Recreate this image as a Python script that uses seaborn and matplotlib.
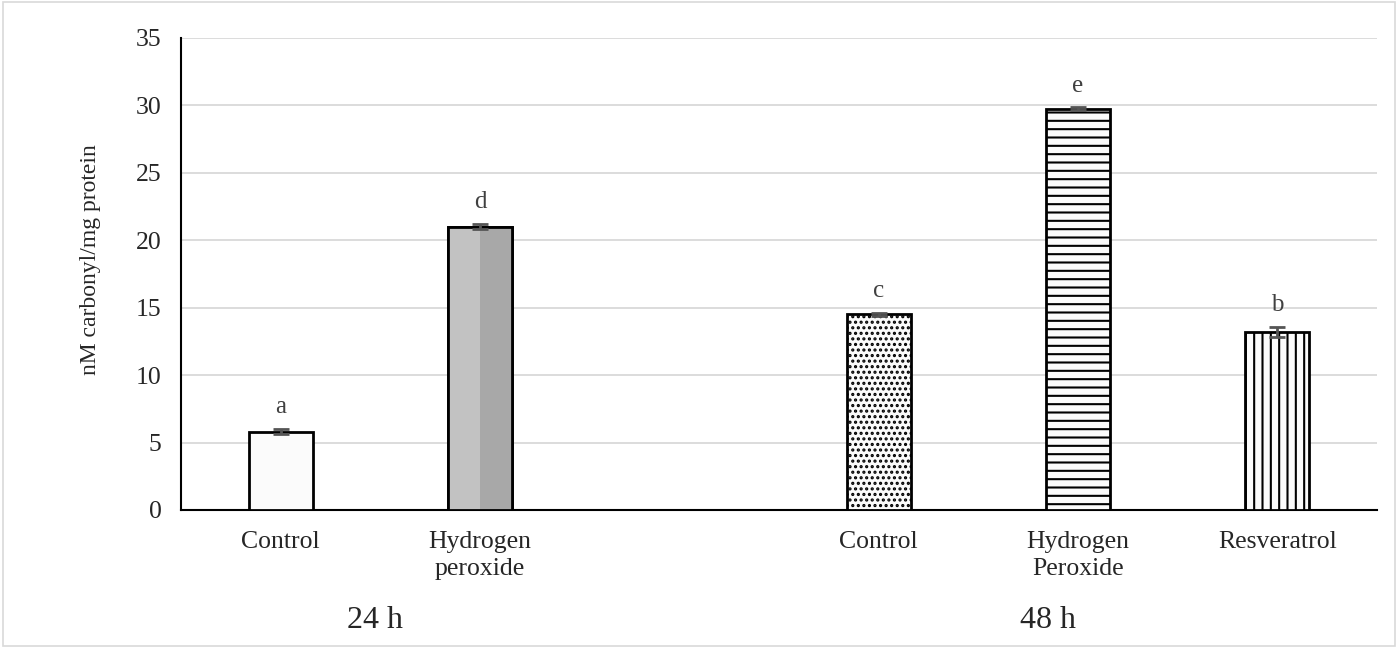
import matplotlib
matplotlib.use("Agg")
import matplotlib.pyplot as plt
import seaborn as sns
import pandas as pd
import numpy as np
from matplotlib.patches import Rectangle

# ---- data ----
categories = ["ctrl24", "h2o2_24", "gap", "ctrl48", "h2o2_48", "resv48"]
bar_categories = ["ctrl24", "h2o2_24", "ctrl48", "h2o2_48", "resv48"]
values = [5.8, 21.0, 14.5, 29.75, 13.2]
errors = [0.2, 0.2, 0.1, 0.1, 0.35]
letters = ["a", "d", "c", "e", "b"]
tick_labels = ["Control", "Hydrogen\nperoxide", "", "Control", "Hydrogen\nPeroxide", "Resveratrol"]
group_labels = ["24 h", "48 h"]

sns.set_theme(style="white")
plt.rcParams["font.family"] = ["Liberation Serif", "DejaVu Serif"]
plt.rcParams["hatch.linewidth"] = 1.5

fig = plt.figure(figsize=(13.98, 6.48), dpi=100)
ax = fig.add_axes([181 / 1398, 1 - 510 / 648, (1377 - 181) / 1398, (510 - 38) / 648])

df = pd.DataFrame({"cat": bar_categories, "val": values})
sns.barplot(data=df, x="cat", y="val", order=categories, errorbar=None,
            width=0.32, ax=ax, color="white", edgecolor="black", linewidth=2.0)

fills = ["#fbfbfb", "#b4b4b4", "#fbfbfb", "#fbfbfb", "#fbfbfb"]
hatches = [None, None, "...", "--", "||"]
patches = sorted(ax.patches, key=lambda p: p.get_x())
for p, fc, h in zip(patches, fills, hatches):
    p.set_facecolor(fc)
    if h:
        p.set_hatch(h)
    p.set_zorder(3)

# bevel-like shading on the grey bar (left lighter, right darker)
gp = patches[1]
x0, w, y0, hgt = gp.get_x(), gp.get_width(), gp.get_y(), gp.get_height()
shade = np.array([[0.76, 0.66]])
im = ax.imshow(shade, cmap="gray", vmin=0, vmax=1, aspect="auto",
               extent=(x0, x0 + w, y0, y0 + hgt), zorder=3.5, interpolation="nearest")
im.set_clip_path(gp)
outline = Rectangle((x0, y0), w, hgt, fill=False, edgecolor="black", linewidth=2.0, zorder=3.6)
ax.add_patch(outline)

xs = [categories.index(c) for c in bar_categories]
ax.errorbar(xs, values, yerr=errors, fmt="none", ecolor="#555555",
            elinewidth=2.0, capsize=6, capthick=2.0, zorder=5)
for x, v, e, t in zip(xs, values, errors, letters):
    ax.text(x, v + e + 0.8, t, ha="center", va="bottom", fontsize=18, color="#404040")

ax.set_xlim(-0.5, 5.5)
ax.set_ylim(0, 35)
ax.set_yticks(range(0, 36, 5))
ax.set_xticks(range(len(categories)))
ax.set_xticklabels(tick_labels, fontsize=18.5, linespacing=1.3)
ax.tick_params(axis="x", length=0, pad=15)
ax.tick_params(axis="y", length=0, pad=14, labelsize=18.5)
ax.set_xlabel("")
ax.set_ylabel("nM carbonyl/mg protein", fontsize=17)
ax.yaxis.set_label_coords(-80 / 1196, 0.53)
ax.yaxis.grid(True, color="#d9d9d9", linewidth=1.3, zorder=0)
ax.set_axisbelow(True)
for s in ["top", "right"]:
    ax.spines[s].set_visible(False)
for s in ["left", "bottom"]:
    ax.spines[s].set_color("black")
    ax.spines[s].set_linewidth(1.5)

fig.text(375 / 1398, 1 - 621 / 648, group_labels[0], ha="center", va="center", fontsize=23)
fig.text(1048 / 1398, 1 - 621 / 648, group_labels[1], ha="center", va="center", fontsize=23)

fig.patches.append(Rectangle((0.002, 0.003), 0.996, 0.994, transform=fig.transFigure,
                             fill=False, edgecolor="#d9d9d9", linewidth=1.2))

fig.savefig("out.png", dpi=100)
